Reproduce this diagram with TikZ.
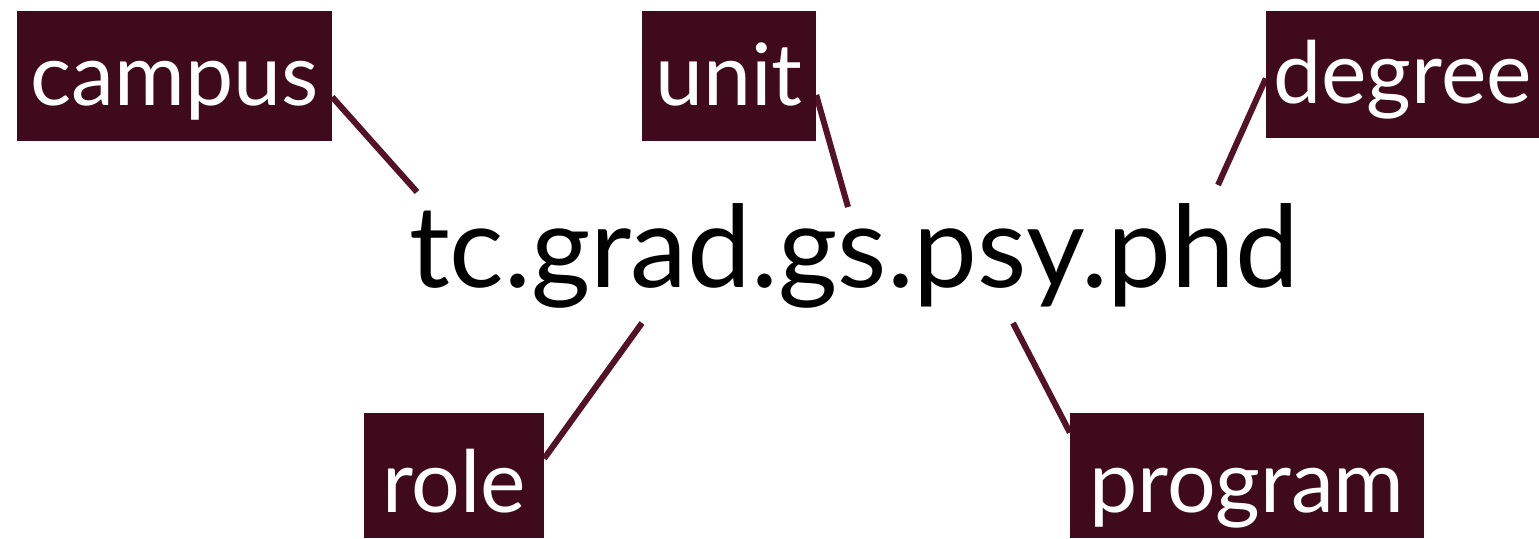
\documentclass[tikz,border=0pt]{standalone}
\usepackage{fontspec}
\setmainfont{Lato}
\usetikzlibrary{backgrounds}
\definecolor{boxc}{HTML}{3E0A1C}
\definecolor{linec}{HTML}{541228}
\begin{document}
\begin{tikzpicture}[x=1pt,y=-1pt,
  lab/.style={rectangle, fill=boxc, text=white, inner sep=0pt, font=\fontsize{86}{86}\selectfont},
  toplab/.style={lab, text height=70pt, text depth=12pt},
  botlab/.style={lab, text height=80pt, text depth=7pt},
  conn/.style={draw=linec, line width=6pt}]
\useasboundingbox (0,0) rectangle (1539,538);
\node[anchor=base, font=\fontsize{114}{114}\selectfont, inner sep=0pt] (main) at (854,287) {tc.grad.gs.psy.phd};
\node[toplab, minimum width=315pt, minimum height=130pt] (campus) at (174.5,76) {campus};
\node[toplab, minimum width=174pt, minimum height=130pt] (unit) at (729,76) {unit};
\node[toplab, minimum width=273pt, minimum height=127pt] (degree) at (1402.5,74.5) {degree};
\node[botlab, minimum width=180pt, minimum height=125pt] (role) at (454,475.5) {role};
\node[botlab, minimum width=354pt, minimum height=125pt] (program) at (1247,475.5) {program};
\coordinate (cA) at (417,192);
\coordinate (cU) at (848,207);
\coordinate (cD) at (1218,185);
\coordinate (cR) at (642,323);
\coordinate (cP) at (1013,323);
\begin{scope}[on background layer]
\draw[conn] ([yshift=-21pt]campus.east) -- (cA);
\draw[conn] ([yshift=-19pt]unit.east) -- (cU);
\draw[conn] ([yshift=-4pt]degree.west) -- (cD);
\draw[conn] ([yshift=17pt]role.east) -- (cR);
\draw[conn] ([yshift=43pt]program.west) -- (cP);
\end{scope}
\end{tikzpicture}
\end{document}
